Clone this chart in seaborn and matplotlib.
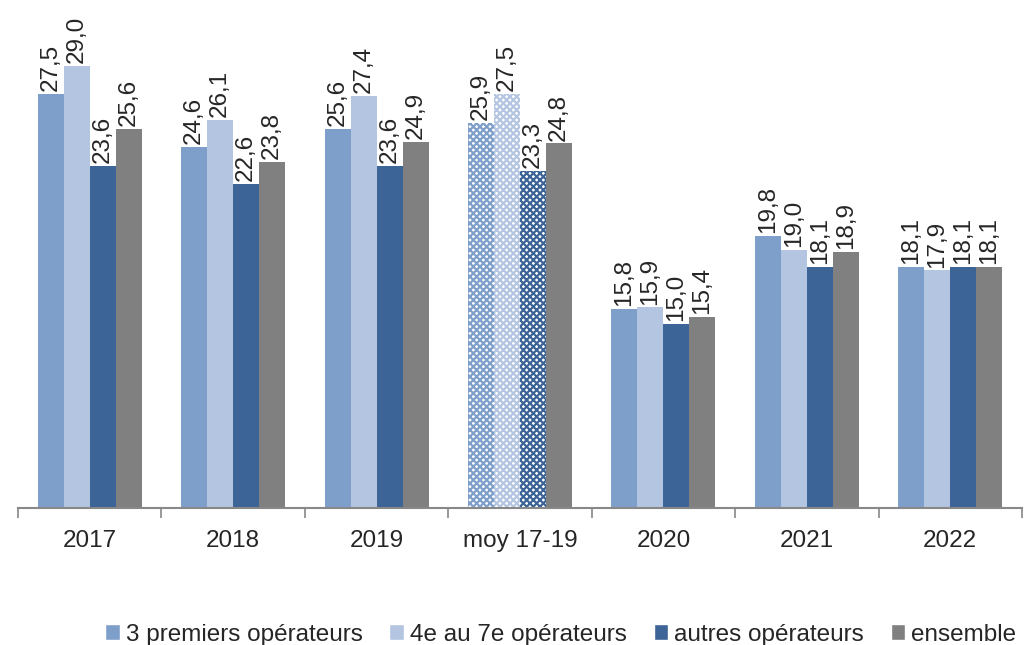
import pandas as pd
import seaborn as sns
import matplotlib.pyplot as plt
from matplotlib.patches import Patch

# Data
categories = ["2017", "2018", "2019", "moy 17-19", "2020", "2021", "2022"]
series = ["3 premiers opérateurs", "4e au 7e opérateurs", "autres opérateurs", "ensemble"]
premiers = [27.5, 24.6, 25.6, 25.9, 15.8, 19.8, 18.1]
quatre_sept = [29.0, 26.1, 27.4, 27.5, 15.9, 19.0, 17.9]
autres = [23.6, 22.6, 23.6, 23.3, 15.0, 18.1, 18.1]
ensemble = [25.6, 23.8, 24.9, 24.8, 15.4, 18.9, 18.1]
colors = ["#7f9fcb", "#b4c5e1", "#3c6496", "#808080"]

df = pd.DataFrame({
    "cat": categories * 4,
    "serie": [s for s in series for _ in categories],
    "val": premiers + quatre_sept + autres + ensemble,
})

sns.set_style("white")
plt.rcParams["font.family"] = ["Liberation Sans", "DejaVu Sans"]
plt.rcParams["hatch.linewidth"] = 1.6

fig = plt.figure(figsize=(10.29, 6.45), dpi=100)
ax = fig.add_axes([0.0175, 0.2124, 0.9757, 0.7707])

sns.barplot(data=df, x="cat", y="val", hue="serie", order=categories,
            hue_order=series, palette=colors, width=0.725, gap=0,
            saturation=1, linewidth=0, ax=ax, legend=False)

# checkered bars for the 2017-2019 average (except "ensemble")
for i, cont in enumerate(ax.containers):
    for bar in cont.patches:
        bar.set_linewidth(0)
    if i < 3:
        bar = cont.patches[3]
        bar.set_facecolor("white")
        bar.set_hatch("xxxxx")
        bar.set_edgecolor(colors[i])
    labels = [f"{v:.1f}".replace(".", ",") for v in cont.datavalues]
    ax.bar_label(cont, labels=labels, rotation=90, padding=2, fontsize=17.5)

ax.set_ylim(5, 32)
ax.set_xlim(-0.5, len(categories) - 0.5)
ax.set_xlabel("")
ax.set_ylabel("")
ax.set_yticks([])
for s in ["top", "right", "left"]:
    ax.spines[s].set_visible(False)
ax.spines["bottom"].set_color("#888888")
ax.spines["bottom"].set_linewidth(1.5)
ax.set_xticks([i - 0.5 for i in range(len(categories) + 1)], minor=True)
ax.tick_params(axis="x", which="minor", bottom=True, length=7, width=1.2,
               color="#888888", direction="out")
ax.tick_params(axis="x", which="major", bottom=False, length=0, pad=16, labelsize=17.5)

handles = [Patch(facecolor=c, label=s) for c, s in zip(colors, series)]
fig.legend(handles=handles, loc="lower center", bbox_to_anchor=(0.545, -0.035), ncol=4,
           frameon=False, fontsize=17.5, handlelength=0.6, handleheight=0.6,
           handletextpad=0.25, columnspacing=1.1)

fig.savefig("out.png", dpi=100)
